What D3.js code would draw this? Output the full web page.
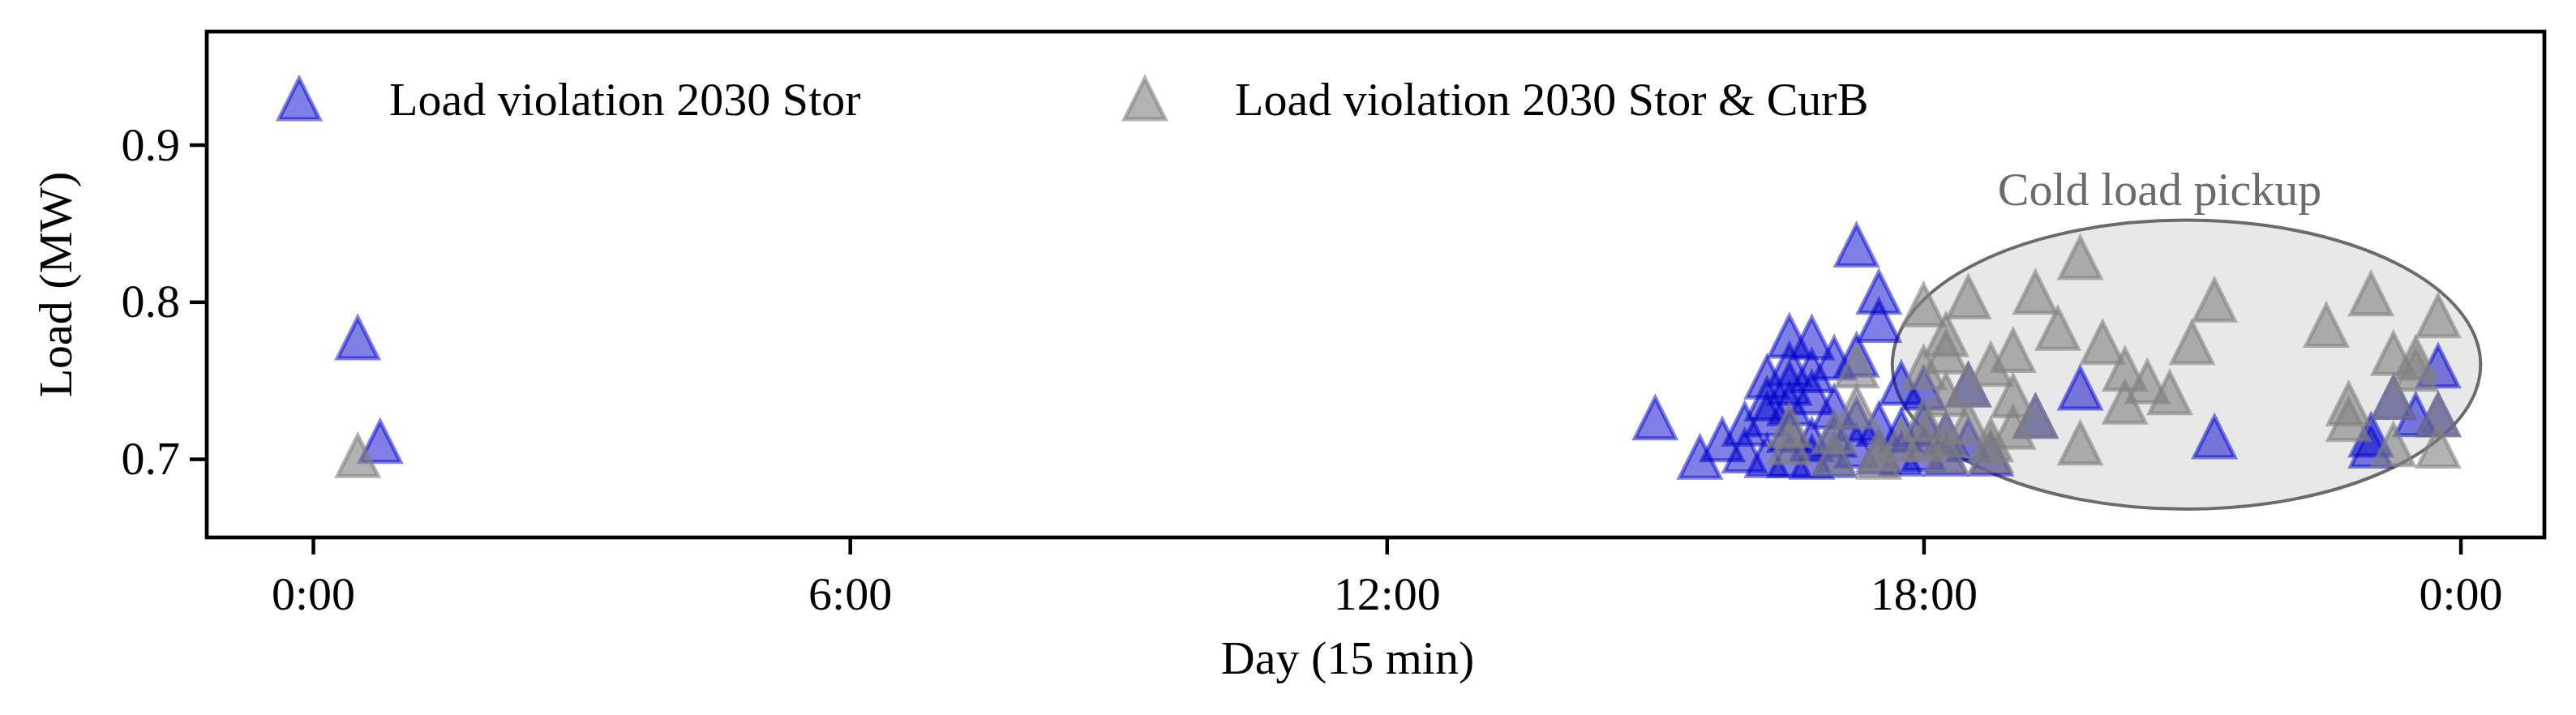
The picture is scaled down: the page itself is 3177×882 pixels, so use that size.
<!DOCTYPE html>
<html>
<head>
<meta charset="UTF-8" />
<title>Load violations</title>
<script src="https://cdn.jsdelivr.net/npm/d3@7"></script>
<style>
  body { margin: 0; background: #fff; }
  text { font-family: "Liberation Serif", "Times New Roman", serif; }
</style>
</head>
<body>
<div id="chart"></div>
<script>
// 15-min step index (0..95) and load in MW
var storX = [2, 3, 60, 62, 63, 64, 64, 65, 65, 65, 65, 66, 66, 66, 66, 66, 66,
  67, 67, 67, 67, 67, 68, 68, 68, 68, 69, 69, 69, 69, 70, 70, 70, 70, 71, 71, 71,
  72, 72, 72, 73, 73, 74, 74, 75, 77, 79, 85, 92, 92, 93, 94, 95, 95];
var storY = [0.777, 0.711, 0.726, 0.701, 0.712, 0.722, 0.705, 0.752, 0.738, 0.728, 0.702,
  0.778, 0.760, 0.748, 0.735, 0.718, 0.702,
  0.777, 0.756, 0.742, 0.712, 0.701, 0.764, 0.733, 0.715, 0.702,
  0.836, 0.766, 0.725, 0.708, 0.806, 0.788, 0.722, 0.704, 0.748, 0.718, 0.703,
  0.745, 0.722, 0.706, 0.716, 0.703, 0.747, 0.712, 0.703, 0.727, 0.745, 0.714,
  0.715, 0.708, 0.739, 0.728, 0.759, 0.728];

var curbX = [2, 66, 66, 68, 68, 69, 69, 70, 70, 71, 72, 72, 72, 72, 73, 73, 73, 73, 73,
  74, 74, 74, 75, 75, 75, 76, 76, 76, 77, 77, 78, 79, 79, 80, 81, 81, 82, 83, 84, 85,
  90, 91, 91, 92, 93, 93, 93, 94, 94, 95, 95, 95];
var curbY = [0.702, 0.721, 0.710, 0.717, 0.703, 0.759, 0.733, 0.706, 0.701, 0.712,
  0.798, 0.758, 0.725, 0.712, 0.779, 0.768, 0.741, 0.715, 0.705,
  0.803, 0.747, 0.723, 0.760, 0.712, 0.705, 0.769, 0.740, 0.720, 0.806, 0.727,
  0.783, 0.828, 0.710, 0.774, 0.757, 0.736, 0.749, 0.742, 0.774, 0.801,
  0.785, 0.735, 0.725, 0.805, 0.767, 0.739, 0.709, 0.764, 0.757, 0.791, 0.728, 0.708];

var tickVals = [0, 24, 48, 72, 96];
var tickLabels = ["0:00", "6:00", "12:00", "18:00", "0:00"];
var yTicks = [0.7, 0.8, 0.9];
var legendLabels = ["Load violation 2030 Stor", "Load violation 2030 Stor & CurB"];

var W = 3177, H = 882;
var m = {left: 255, top: 39, right: 39, bottom: 219};
var iw = W - m.left - m.right, ih = H - m.top - m.bottom;
var fs = 58;

var svg = d3.select("#chart").append("svg").attr("width", W).attr("height", H);
var g = svg.append("g").attr("transform", "translate(" + m.left + "," + m.top + ")");

var x = d3.scaleLinear().domain([-4.75, 99.75]).range([0, iw]);
var y = d3.scaleLinear().domain([0.65, 0.972]).range([ih, 0]);

// cold load pickup ellipse
var ec = [83.75, 0.76], ew = 26.3, eh = 0.184;
g.append("ellipse")
  .attr("cx", x(ec[0])).attr("cy", y(ec[1]))
  .attr("rx", x(ew / 2) - x(0)).attr("ry", y(0) - y(eh / 2))
  .attr("fill", "#e8e8e8").attr("stroke", "#6b6b6b").attr("stroke-width", 4);
g.append("text")
  .attr("x", x(ec[0]) - 33).attr("y", 253 - m.top)
  .attr("text-anchor", "middle").attr("font-size", fs).attr("fill", "#6b6b6b")
  .text("Cold load pickup");

var tri = "M0,-25L25,25L-25,25Z";
function drawSeries(xs, ys, color, alpha) {
  g.append("g").selectAll("path")
    .data(xs.map(function(d, i) { return [d, ys[i]]; }))
    .enter().append("path")
    .attr("d", tri)
    .attr("transform", function(d) { return "translate(" + x(d[0]) + "," + y(d[1]) + ")"; })
    .attr("fill", color).attr("fill-opacity", alpha)
    .attr("stroke", color).attr("stroke-opacity", alpha)
    .attr("stroke-width", 5);
}
drawSeries(storX, storY, "#0000cd", 0.5);
drawSeries(curbX, curbY, "#808080", 0.6);

// axes
var xAxis = g.append("g").attr("transform", "translate(0," + ih + ")")
  .call(d3.axisBottom(x).tickValues(tickVals)
    .tickFormat(function(d, i) { return tickLabels[i]; })
    .tickSize(21).tickPadding(27));
var yAxis = g.append("g")
  .call(d3.axisLeft(y).tickValues(yTicks).tickFormat(d3.format(".1f"))
    .tickSize(21).tickPadding(12));
[xAxis, yAxis].forEach(function(a) {
  a.select(".domain").remove();
  a.selectAll("line").attr("stroke", "#000").attr("stroke-width", 4.5);
  a.selectAll("text").attr("font-size", fs).attr("fill", "#000")
    .style("font-family", "'Liberation Serif', serif");
});

g.append("rect").attr("width", iw).attr("height", ih)
  .attr("fill", "none").attr("stroke", "#000").attr("stroke-width", 4.7);

// labels
svg.append("text").attr("x", 1662).attr("y", 831)
  .attr("text-anchor", "middle").attr("font-size", fs).text("Day (15 min)");
svg.append("text").attr("transform", "translate(88," + (m.top + ih / 2) + ") rotate(-90)")
  .attr("text-anchor", "middle").attr("font-size", fs).text("Load (MW)");

// legend
var leg = svg.append("g");
var legX = [369, 1412], legColors = ["#0000cd", "#808080"], legAlpha = [0.5, 0.6];
legendLabels.forEach(function(t, i) {
  leg.append("path").attr("d", tri)
    .attr("transform", "translate(" + legX[i] + ",122)")
    .attr("fill", legColors[i]).attr("fill-opacity", legAlpha[i])
    .attr("stroke", legColors[i]).attr("stroke-opacity", legAlpha[i])
    .attr("stroke-width", 5);
  leg.append("text").attr("x", legX[i] + 111).attr("y", 142)
    .attr("font-size", fs).text(t);
});
</script>
</body>
</html>
